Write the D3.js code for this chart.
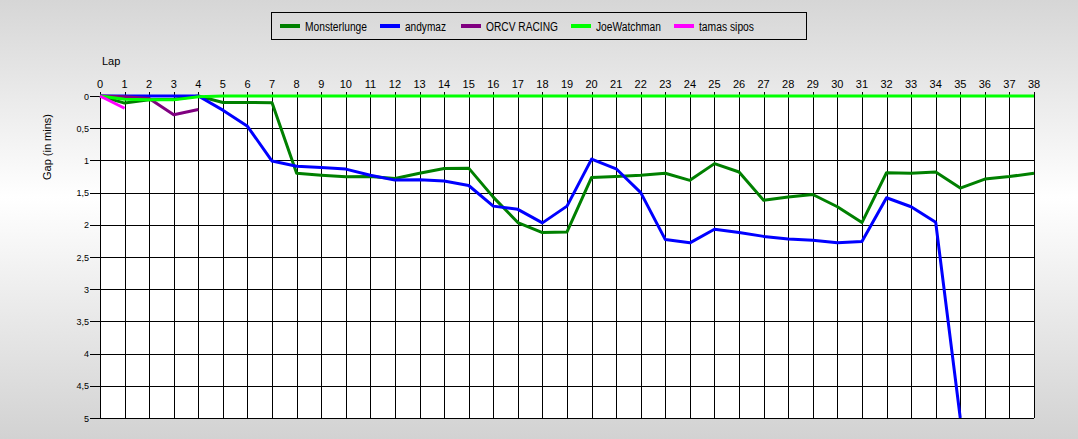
<!DOCTYPE html>
<html><head><meta charset="utf-8">
<script src="https://cdn.jsdelivr.net/npm/d3@7"></script>
<style>
html,body{margin:0;padding:0;}
body{width:1078px;height:439px;overflow:hidden;}
svg{display:block;font-family:"Liberation Sans",Arial,sans-serif;}
</style></head>
<body><svg id="c" width="1078" height="439"></svg>
<script>
const laps = d3.range(0, 39);
const seriesNames = ["Monsterlunge","andymaz","ORCV RACING","JoeWatchman","tamas sipos"];
const seriesColors = ["#008000","#0000ff","#800080","#00ff00","#ff00ff"];
const monsterlunge = [0,0.11,0.06,0.05,0,0.10,0.10,0.105,1.20,1.23,1.255,1.25,1.28,1.20,1.125,1.12,1.57,1.965,2.12,2.11,1.265,1.25,1.23,1.20,1.31,1.05,1.18,1.62,1.57,1.53,1.72,1.965,1.19,1.20,1.18,1.43,1.29,1.25,1.20];
const andymaz = [0,0,0,0,0,0.22,0.47,1.01,1.09,1.11,1.135,1.23,1.306,1.30,1.32,1.39,1.71,1.76,1.97,1.71,0.98,1.13,1.50,2.23,2.28,2.07,2.12,2.18,2.22,2.24,2.28,2.26,1.58,1.72,1.96,5.0];
const orcv = [0,0.01,0.04,0.29,0.21];
const joewatchman = [0,0.05,0.06,0.06,0.01,0,0,0,0,0,0,0,0,0,0,0,0,0,0,0,0,0,0,0,0,0,0,0,0,0,0,0,0,0,0,0,0,0,0];
const tamas = [0,0.19];
const seriesValues = [monsterlunge, andymaz, orcv, joewatchman, tamas];
const yTicks = [0,0.5,1,1.5,2,2.5,3,3.5,4,4.5,5];

const svg = d3.select("#c");
const defs = svg.append("defs");
const g = defs.append("linearGradient").attr("id","bg").attr("x1",0).attr("y1",0).attr("x2",0).attr("y2",1);
g.append("stop").attr("offset","0%").attr("stop-color","#d6d6d6");
g.append("stop").attr("offset","45%").attr("stop-color","#ffffff");
g.append("stop").attr("offset","100%").attr("stop-color","#d2d2d2");
svg.append("rect").attr("width",1078).attr("height",439).attr("fill","url(#bg)");

const L=100, R=1034, T=96, B=418;
const x = d3.scaleLinear().domain([0,38]).range([L,R]);
const y = d3.scaleLinear().domain([0,5]).range([T,B]);

svg.append("rect").attr("x",L).attr("y",T).attr("width",R-L).attr("height",B-T).attr("fill","#ffffff");

// grid
const grid = svg.append("g").attr("stroke","#000").attr("stroke-width",1.3).attr("shape-rendering","crispEdges");
laps.forEach(l=>{
  grid.append("line").attr("x1",Math.round(x(l))+0.5).attr("x2",Math.round(x(l))+0.5).attr("y1",T-4).attr("y2",B);
});
yTicks.forEach(v=>{
  grid.append("line").attr("x1",L-10).attr("x2",R).attr("y1",Math.round(y(v))+0.5).attr("y2",Math.round(y(v))+0.5);
});

// x tick labels (top)
svg.append("g").selectAll("text").data(laps).join("text")
  .attr("x",d=>x(d)).attr("y",88).attr("text-anchor","middle")
  .attr("font-size",11).attr("fill","#000").text(d=>d);
// y tick labels
svg.append("g").selectAll("text").data(yTicks).join("text")
  .attr("x",89).attr("y",d=>y(d)+3.5).attr("text-anchor","end")
  .attr("font-size",9).attr("fill","#000").text(d=>String(d).replace(".",","));

svg.append("text").attr("x",102).attr("y",65).attr("font-size",11).attr("fill","#000").text("Lap");
svg.append("text").attr("transform","translate(51,147) rotate(-90)").attr("text-anchor","middle")
  .attr("font-size",11).attr("fill","#000").text("Gap (in mins)");

// series
const line = d3.line().x((d,i)=>x(i)).y(d=>y(d));
seriesValues.forEach((vals,k)=>{
  svg.append("path").datum(vals).attr("d",line).attr("fill","none")
    .attr("stroke",seriesColors[k]).attr("stroke-width",3).attr("stroke-linejoin","round");
});

// legend
const lg = svg.append("g");
lg.append("rect").attr("x",271.5).attr("y",12.5).attr("width",535).attr("height",27).attr("fill","none").attr("stroke","#000").attr("stroke-width",1);
const lx = [280,380,461,571,674];
const lw = [62,41,72,65,55];
seriesNames.forEach((n,k)=>{
  lg.append("line").attr("x1",lx[k]).attr("x2",lx[k]+20).attr("y1",26).attr("y2",26).attr("stroke",seriesColors[k]).attr("stroke-width",4);
  lg.append("text").attr("x",lx[k]+25).attr("y",30.5).attr("font-size",12).attr("fill","#000")
    .attr("textLength",lw[k]).attr("lengthAdjust","spacingAndGlyphs").text(n);
});
</script></body></html>
